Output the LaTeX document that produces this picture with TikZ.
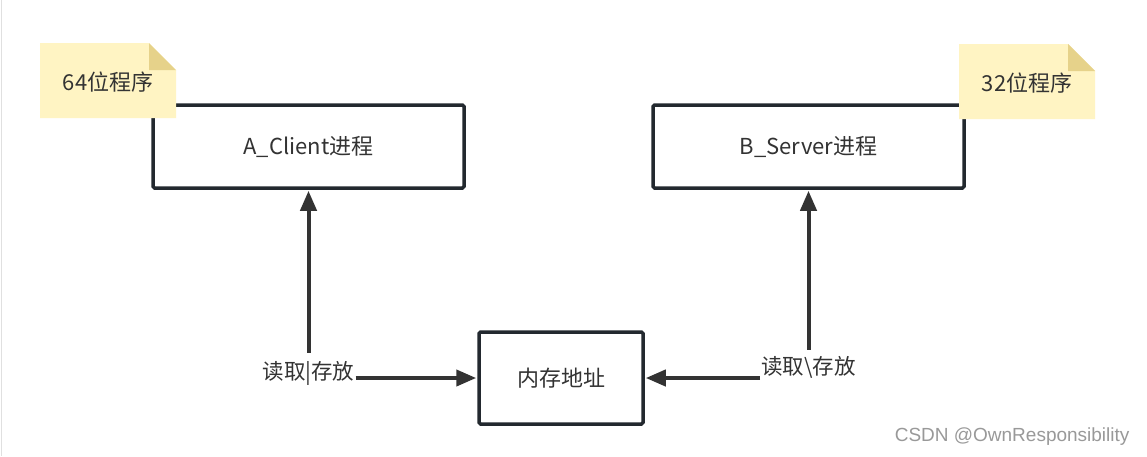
\documentclass[tikz,border=0pt]{standalone}
\usepackage{fontspec}
\setmainfont{Noto Sans CJK SC}
\newfontfamily\wmfont{Liberation Sans}
\usetikzlibrary{arrows.meta,calc}
\definecolor{boxline}{HTML}{23292F}
\definecolor{arrowc}{HTML}{333333}
\definecolor{notefill}{HTML}{FFF4C3}
\definecolor{notefold}{HTML}{E6D28A}
\definecolor{txt}{HTML}{333333}
\tikzset{
  procbox/.style={draw=boxline, line width=3.5pt, fill=white, rounded corners=1.5pt, minimum width=311pt, minimum height=83pt, inner sep=0pt, text=txt, font=\fontsize{22}{26}\selectfont},
  membox/.style={draw=boxline, line width=3.5pt, fill=white, rounded corners=1.5pt, minimum width=164pt, minimum height=92pt, inner sep=0pt, text=txt, font=\fontsize{22}{26}\selectfont},
  lbl/.style={text=txt, inner sep=1pt, font=\fontsize{21.5}{24}\selectfont},
  conn/.style={draw=arrowc, line width=4pt, -{Triangle[length=20pt,width=16pt]}, shorten >=1pt},
  notetext/.style={text=txt, font=\fontsize{22}{26}\selectfont},
}
\begin{document}
\begin{tikzpicture}[x=1pt,y=-1pt]
\useasboundingbox (0,0) rectangle (1147,456);
\fill[white] (0,0) rectangle (1147,456);
\draw[black!12, line width=1.5pt] (1.5,0) -- (1.5,456);
% process boxes
\node[procbox] (A) at (308.5,146.5) {A\_Client进程};
\node[procbox] (B) at (808.5,146.5) {B\_Server进程};
\node[membox] (M) at (561,378) {内存地址};
% notes
\fill[notefill] (40,43) -- (149,43) -- (176,70) -- (176,118) -- (40,118) -- cycle;
\fill[notefold] (149,43) -- (176,70) -- (149,70) -- cycle;
\node[notetext] (n64) at (108,82) {64位程序};
\fill[notefill] (959,44) -- (1068,44) -- (1095,71) -- (1095,119) -- (959,119) -- cycle;
\fill[notefold] (1068,44) -- (1095,71) -- (1068,71) -- cycle;
\node[notetext] (n32) at (1027,83) {32位程序};
% labels
\node[lbl, minimum height=40pt] (L) at (308.5,373) {读取|存放};
\node[lbl, minimum height=34pt] (R) at (808.5,367) {读取\textbackslash 存放};
% connectors
\draw[conn] (L.north) -- (A.south);
\draw[conn] (L.east |- M.west) -- (M.west);
\draw[conn] (R.north) -- (B.south);
\draw[conn] (R.west |- M.east) -- (M.east);
% watermark
\node[text=black!40, font=\wmfont\fontsize{19}{22}\selectfont, anchor=east] (wm) at (1133,437) {CSDN @OwnResponsibility};
\end{tikzpicture}
\end{document}
